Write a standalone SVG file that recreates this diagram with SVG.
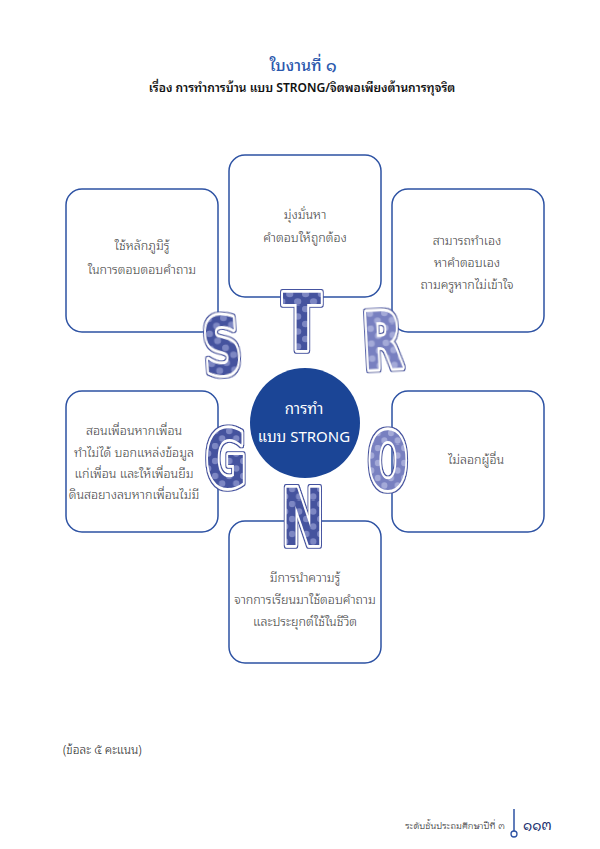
<svg xmlns="http://www.w3.org/2000/svg" width="600" height="849" viewBox="0 0 600 849">
<defs>
<style>
.box{fill:#fff;stroke:#2d52a3;stroke-width:1.5}
.th{font-family:"Noto Sans Thai Looped","Loma","Tahoma","Leelawadee UI","Noto Sans Thai","Noto Sans",sans-serif}
.t{font-size:12.5px;fill:#3a3a3a;text-anchor:middle;font-weight:300}
.ct{font-size:15px;fill:#fff;text-anchor:middle;font-weight:400}
.L{font-family:"DejaVu Sans",sans-serif;font-weight:bold;font-size:78px;text-anchor:middle;stroke:#fff;stroke-width:5.5;stroke-linejoin:round;paint-order:stroke;filter:url(#edge)}
.dk{fill:url(#dotsDark)}
.lt{fill:url(#dotsLight)}
</style>
<pattern id="dotsDark" patternUnits="userSpaceOnUse" width="22" height="15">
<rect width="22" height="15" fill="#45529e"/>
<ellipse cx="5" cy="4" rx="5" ry="3.3" fill="#7d87c3"/>
<ellipse cx="16" cy="11.5" rx="5" ry="3.3" fill="#7d87c3"/>
</pattern>
<pattern id="dotsLight" patternUnits="userSpaceOnUse" width="22" height="15">
<rect width="22" height="15" fill="#7880c0"/>
<ellipse cx="5" cy="4" rx="5" ry="3.3" fill="#a4aad8"/>
<ellipse cx="16" cy="11.5" rx="5" ry="3.3" fill="#a4aad8"/>
</pattern>
<filter id="edge" x="-20%" y="-20%" width="140%" height="140%">
<feMorphology in="SourceAlpha" operator="dilate" radius="1.1" result="d"/>
<feFlood flood-color="#4553a0"/>
<feComposite in2="d" operator="in" result="o"/>
<feMerge><feMergeNode in="o"/><feMergeNode in="SourceGraphic"/></feMerge>
</filter>
</defs>
<rect width="600" height="849" fill="#fff"/>

<g id="title" class="th">
<text x="303" y="71" style="font-size:16px;fill:#2b58ad;text-anchor:middle;font-weight:500">ใบงานที่ ๑</text>
<text x="302" y="92" style="font-size:12px;fill:#111;text-anchor:middle;font-weight:600">เรื่อง การทำการบ้าน แบบ STRONG/จิตพอเพียงต้านการทุจริต</text>
</g>

<g id="box-tl" class="th">
<rect class="box" x="66" y="189" width="152" height="143" rx="16"/>
<text class="t" x="142" y="250">ใช้หลักภูมิรู้</text>
<text class="t" x="142" y="274">ในการตอบตอบคำถาม</text>
</g>
<g id="box-tc" class="th">
<rect class="box" x="229" y="155" width="152" height="142" rx="16"/>
<text class="t" x="305" y="219">มุ่งมั่นหา</text>
<text class="t" x="305" y="242">คำตอบให้ถูกต้อง</text>
</g>
<g id="box-tr" class="th">
<rect class="box" x="392" y="189" width="152" height="143" rx="16"/>
<text class="t" x="467" y="245">สามารถทำเอง</text>
<text class="t" x="467" y="267">หาคำตอบเอง</text>
<text class="t" x="467" y="289">ถามครูหากไม่เข้าใจ</text>
</g>
<g id="box-ml" class="th">
<rect class="box" x="66" y="391" width="152" height="141" rx="16"/>
<text class="t" x="134" y="435">สอนเพื่อนหากเพื่อน</text>
<text class="t" x="134" y="457">ทำไม่ได้ บอกแหล่งข้อมูล</text>
<text class="t" x="134" y="478">แก่เพื่อน และให้เพื่อนยืม</text>
<text class="t" x="134" y="499">ดินสอยางลบหากเพื่อนไม่มี</text>
</g>
<g id="box-mr" class="th">
<rect class="box" x="392" y="391" width="152" height="141" rx="16"/>
<text class="t" x="476" y="464">ไม่ลอกผู้อื่น</text>
</g>
<g id="box-bc" class="th">
<rect class="box" x="229" y="521" width="152" height="142" rx="16"/>
<text class="t" x="305" y="582">มีการนำความรู้</text>
<text class="t" x="305" y="604">จากการเรียนมาใช้ตอบคำถาม</text>
<text class="t" x="305" y="626">และประยุกต์ใช้ในชีวิต</text>
</g>

<g id="center" class="th">
<circle cx="305" cy="423" r="55" fill="#1b4596"/>
<text class="ct" x="304" y="414">การทำ</text>
<text class="ct" x="304" y="442">แบบ STRONG</text>
</g>

<g id="letters">
<g id="L-S"><text class="L dk" transform="translate(224,374) rotate(-4) scale(0.68,1)">S</text></g>
<g id="L-T"><text class="L dk" transform="translate(302,350) scale(0.72,1)">T</text></g>
<g id="L-R"><text class="L lt" transform="translate(384,369) rotate(-3) scale(0.66,1)">R</text></g>
<g id="L-G"><text class="L dk" transform="translate(226,487) scale(0.64,1)">G</text></g>
<g id="L-O"><text class="L lt" transform="translate(388,489) scale(0.6,1)">O</text></g>
<g id="L-N"><text class="L dk" transform="translate(303,545) scale(0.64,1)">N</text></g>
</g>

<g id="footer" class="th">
<text x="63" y="754" style="font-size:12px;fill:#222;font-weight:300">(ข้อละ ๕ คะแนน)</text>
<text x="505" y="829" style="font-size:9.5px;fill:#222;text-anchor:end;font-weight:300">ระดับชั้นประถมศึกษาปีที่ ๓</text>
<line x1="514" y1="809" x2="514" y2="831" stroke="#2d52a3" stroke-width="1.5"/>
<circle cx="514" cy="834" r="3" fill="#fff" stroke="#2d52a3" stroke-width="1.3"/>
<text x="523" y="830" style="font-size:14px;fill:#1a2f6e">๑๑๓</text>
</g>
</svg>
